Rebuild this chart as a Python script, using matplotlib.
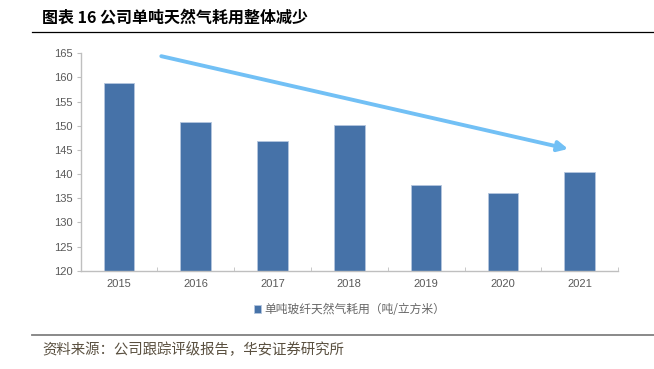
import matplotlib
matplotlib.use("Agg")
import matplotlib.pyplot as plt
import numpy as np

plt.rcParams["font.family"] = ["Noto Sans CJK SC", "DejaVu Sans"]

years = ["2015", "2016", "2017", "2018", "2019", "2020", "2021"]
gas_use = [158.8, 150.7, 146.8, 150.2, 137.7, 136.1, 140.5]
y_ticks = [120, 125, 130, 135, 140, 145, 150, 155, 160, 165]

# trend arrow end points (category index, value)
arrow_start = (0.55, 164.4)
arrow_end = (5.85, 145.2)

title = "图表 16 公司单吨天然气耗用整体减少"
legend_label = "单吨玻纤天然气耗用（吨/立方米）"
source = "资料来源：公司跟踪评级报告，华安证券研究所"

bar_color = "#4672A8"
grey = "#595959"

fig = plt.figure(figsize=(6.54, 3.69), dpi=100)
ax = fig.add_axes([0.1234, 0.2664, 0.8216, 0.5892])

x = np.arange(len(years))
ax.bar(x, gas_use, width=0.4, color=bar_color, edgecolor="#b4c6de",
       linewidth=0.6, label=legend_label, zorder=2)

ax.set_xlim(-0.5, len(years) - 0.5)
ax.set_ylim(120, 165)
ax.set_yticks(y_ticks)
ax.set_xticks(x)
ax.set_xticklabels(years)
ax.set_xticks(np.arange(-0.5, len(years)), minor=True)

for lab in ax.get_xticklabels() + ax.get_yticklabels():
    lab.set_fontfamily(["Liberation Sans", "DejaVu Sans"])
    lab.set_fontsize(8)
    lab.set_color(grey)

for side in ["top", "right"]:
    ax.spines[side].set_visible(False)
for side in ["left", "bottom"]:
    ax.spines[side].set_color("#bfbfbf")
    ax.spines[side].set_linewidth(1.0)

ax.tick_params(axis="y", length=3, color="#bfbfbf", pad=3)
ax.tick_params(axis="x", which="major", length=0, pad=6)
ax.tick_params(axis="x", which="minor", length=3, direction="in", color="#bfbfbf")

ax.annotate("", xy=arrow_end, xytext=arrow_start,
            arrowprops=dict(arrowstyle="-|>,head_length=0.6,head_width=0.3",
                            color="#72C0F5", lw=2.8, shrinkA=0, shrinkB=0),
            zorder=3)

leg = ax.legend(loc="upper center", bbox_to_anchor=(0.5, -0.1), frameon=False,
                fontsize=8.5, handlelength=0.6, handleheight=0.6, handletextpad=0.3)
for t in leg.get_texts():
    t.set_color("#666666")

fig.text(42 / 654, 1 - 18 / 369, title, fontsize=11.5, fontweight="bold",
         va="center", ha="left", color="black")
fig.add_artist(plt.Line2D([32 / 654, 1], [1 - 32 / 369, 1 - 32 / 369],
                          color="black", lw=0.9))
fig.add_artist(plt.Line2D([32 / 654, 1], [1 - 335 / 369, 1 - 335 / 369],
                          color="#808080", lw=1.3))
fig.text(42 / 654, 1 - 350 / 369, source, fontsize=10.4, va="center",
         ha="left", color="#5a5040")

fig.savefig("out.png", dpi=100)
